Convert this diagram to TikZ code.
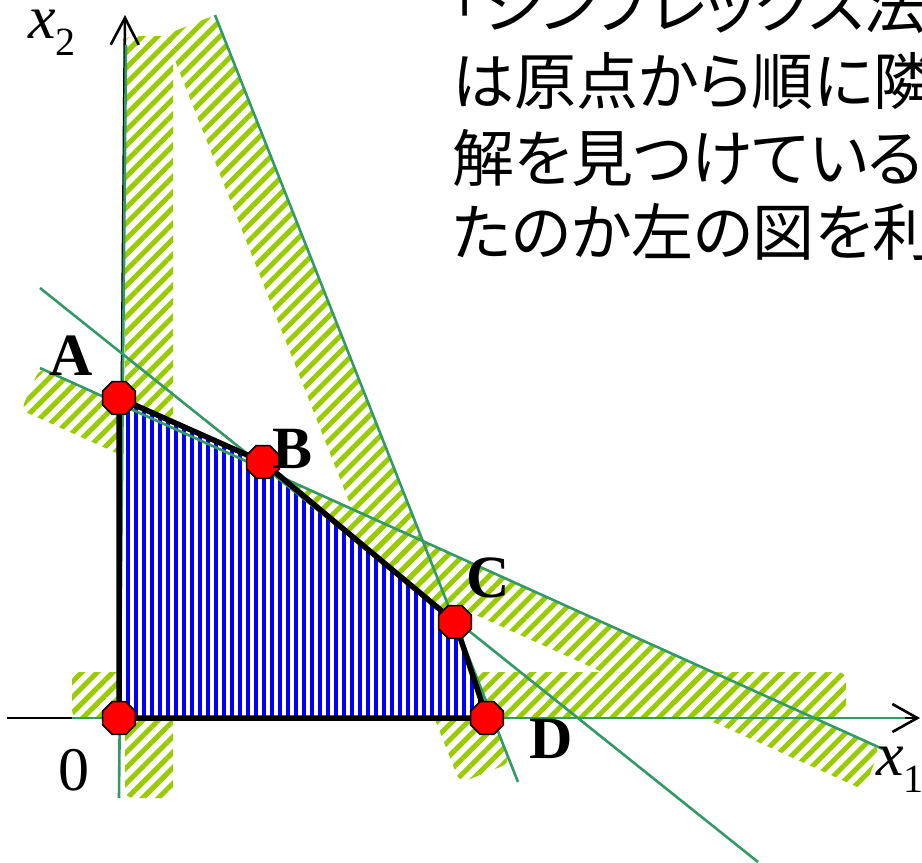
\documentclass[tikz,border=0pt]{standalone}
\usepackage{fontspec}
\setmainfont{Liberation Serif}
\newfontfamily\jpfont[RawFeature={+palt}]{Noto Sans CJK JP}
\usetikzlibrary{patterns.meta,arrows.meta,shapes.geometric}
\definecolor{hatchgreen}{HTML}{99CC00}
\definecolor{linegreen}{HTML}{339966}
\definecolor{regionblue}{HTML}{0000FF}
\definecolor{vertexred}{HTML}{FF0000}
\tikzset{
  band/.style={pattern={Lines[angle=45,distance=11pt,line width=5pt]},pattern color=hatchgreen,rounded corners=8pt},
  cline/.style={draw=linegreen,line width=2.6pt},
  axisline/.style={draw=black,line width=2.6pt},
  edgeline/.style={draw=black,line width=5.5pt,line cap=round,line join=round},
  vertex/.style={regular polygon,regular polygon sides=8,minimum size=35.5pt,inner sep=0pt,fill=vertexred,draw=black,line width=1.6pt},
  vlabel/.style={font=\fontsize{60}{60}\selectfont\bfseries,inner sep=0pt,anchor=base},
  axlabel/.style={font=\fontsize{62}{62}\selectfont,inner sep=0pt,anchor=base west},
  jp/.style={font=\jpfont\fontsize{62}{62}\selectfont,inner sep=0pt,anchor=base west}
}
\begin{document}
\begin{tikzpicture}[x=1pt,y=-1pt]
\useasboundingbox (0,0) rectangle (922,863);
% vertices
\coordinate (vO) at (119,718);
\coordinate (vA) at (119,398);
\coordinate (vB) at (263,462);
\coordinate (vC) at (455,622);
\coordinate (vD) at (487,718);
% hatched bands
\fill[band] (125,36) rectangle (173,798);
\fill[band] (72,672) rectangle (846,718);
\fill[band] (215,15) -- (510,763) -- (460,783) -- (165,35) -- cycle;
\fill[band] (40,368) -- (880,748) -- (864,790) -- (21,410) -- cycle;
% feasible region
\fill[white] (vO) -- (vA) -- (vB) -- (vC) -- (vD) -- cycle;
\fill[pattern={Lines[angle=90,distance=8pt,line width=4pt]},pattern color=regionblue] (vO) -- (vA) -- (vB) -- (vC) -- (vD) -- cycle;
% axes
\coordinate (xs) at (7,718);
\coordinate (xe) at (920,718);
\coordinate (ye) at (125,15);
\draw[axisline,-{Straight Barb[length=25pt,width=28pt]}] (xs) -- (xe);
\draw[axisline,-{Straight Barb[length=27pt,width=28pt]}] (vO) -- (ye);
% constraint lines
\coordinate (g1a) at (126,45);  \coordinate (g1b) at (119,798);
\coordinate (g2a) at (72,718);  \coordinate (g2b) at (905,718);
\coordinate (g3a) at (215,15);  \coordinate (g3b) at (518,782);
\coordinate (g4a) at (40,368);  \coordinate (g4b) at (885,750);
\coordinate (g5a) at (40,288);  \coordinate (g5b) at (758,862);
\draw[cline] (g1a) -- (g1b);
\draw[cline] (g2a) -- (g2b);
\draw[cline] (g3a) -- (g3b);
\draw[cline] (g4a) -- (g4b);
\draw[cline] (g5a) -- (g5b);
% region boundary
\draw[edgeline] (vO) -- (vA) -- (vB) -- (vC) -- (vD) -- cycle;
% vertex markers
\node[vertex] (O) at (vO) {};
\node[vertex] (A) at (vA) {};
\node[vertex] (B) at (vB) {};
\node[vertex] (C) at (vC) {};
\node[vertex] (D) at (vD) {};
% labels
\node[vlabel] (lA) at (71,375) {A};
\node[vlabel] (lB) at (293,468) {B};
\node[vlabel] (lC) at (488,597) {C};
\node[vlabel] (lD) at (551,758) {D};
\node[axlabel,anchor=base] (l0) at (74,790) {0};
\node[axlabel] (lx2) at (28,38) {\itshape x\raisebox{-17pt}{\fontsize{40}{40}\selectfont\upshape 2}};
\node[axlabel] (lx1) at (876,775) {\itshape x\raisebox{-17pt}{\fontsize{40}{40}\selectfont\upshape 1}};
% text
\begin{scope}
\clip (0,0) rectangle (922,863);
\node[jp] (t1) at (452,28) {「シンプレックス法」};
\node[jp] (t2) at (452,104) {は原点から順に隣};
\node[jp] (t3) at (452,181) {解を見つけている};
\node[jp] (t4) at (452,255) {たのか左の図を利};
\end{scope}
\end{tikzpicture}
\end{document}
